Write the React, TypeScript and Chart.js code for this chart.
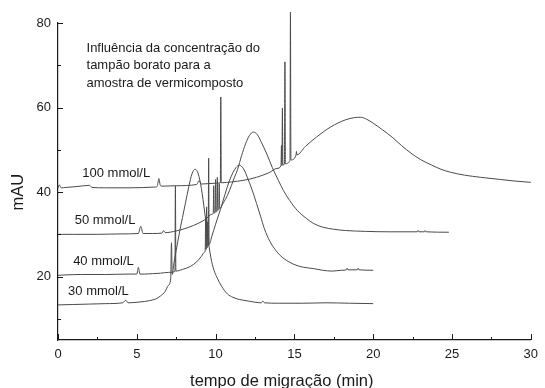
import { useEffect, useRef } from "react";
import { Chart, registerables } from "chart.js";

Chart.register(...registerables);

// ---- data (migration time in min, absorbance in mAU) ----
const t30 = [0, 1, 2, 3, 4.1, 4.3, 4.45, 5.2, 5.8, 6.2, 6.5, 6.8, 7.0, 7.15, 7.2, 7.25, 7.35, 7.5, 7.7, 7.9, 8.1, 8.3, 8.5, 8.7, 8.9, 9.1, 9.3, 9.5, 9.7, 9.9, 10.1, 10.4, 10.75, 11.1, 11.5, 12.1, 12.9, 13.0, 13.1, 14, 15.5, 17, 18.5, 20];
const v30 = [13.3, 13.4, 13.5, 13.6, 13.8, 14.4, 13.8, 14.0, 14.3, 14.7, 15.4, 16.5, 17.9, 19.5, 28.0, 20.5, 23.0, 26.2, 30.3, 34.0, 37.6, 41.3, 44.3, 45.4, 44.3, 40.8, 35.5, 29.5, 24.5, 21.5, 19.7, 17.6, 15.9, 15.1, 14.6, 14.2, 13.8, 14.2, 13.8, 13.7, 13.7, 13.8, 13.7, 13.6];

const t40 = [0, 0.5, 1.5, 3, 4.5, 5.0, 5.1, 5.2, 5.5, 6.0, 6.5, 7.0, 7.42, 7.45, 7.48, 7.9, 8.4, 8.8, 9.1, 9.3, 9.34, 9.37, 9.4, 9.43, 9.46, 9.5, 9.53, 9.56, 9.59, 9.75, 10.0, 10.3, 10.6, 10.85, 11.1, 11.3, 11.5, 11.7, 11.85, 12.0, 12.3, 12.6, 12.85, 13.1, 13.45, 13.8, 14.1, 14.6, 15.1, 15.6, 16.2, 16.8, 17.4, 18.0, 18.3, 18.35, 18.4, 19.0, 19.05, 19.1, 20];
const v40 = [20.3, 20.4, 20.5, 20.5, 20.6, 20.6, 22.2, 20.6, 20.6, 20.7, 20.8, 21.0, 21.2, 41.4, 21.3, 21.7, 22.4, 23.5, 24.8, 25.8, 26.1, 34.0, 26.4, 36.5, 26.8, 33.0, 27.2, 48.0, 27.6, 29.4, 32.4, 35.8, 39.5, 42.4, 44.6, 45.8, 46.35, 45.9, 45.0, 43.6, 40.7, 37.3, 34.3, 31.3, 28.3, 26.3, 25.0, 23.6, 22.7, 22.2, 21.9, 21.5, 21.3, 21.5, 21.6, 22.0, 21.6, 21.6, 22.0, 21.6, 21.5];

const t50 = [0, 1, 2.5, 4, 5.1, 5.25, 5.4, 6.0, 6.6, 6.7, 6.8, 7.5, 8.0, 8.6, 9.3, 9.8, 9.85, 9.88, 9.91, 9.97, 10.0, 10.03, 10.08, 10.11, 10.14, 10.2, 10.23, 10.26, 10.5, 10.75, 11.0, 11.2, 11.4, 11.65, 11.9, 12.15, 12.4, 12.65, 12.9, 13.25, 13.6, 13.98, 14.3, 14.7, 15.2, 15.75, 16.2, 16.8, 17.5, 18.25, 19.5, 21, 22.8, 22.85, 22.9, 23.25, 23.3, 23.35, 24.8];
const v50 = [30.0, 30.0, 30.0, 30.1, 30.2, 31.9, 30.2, 30.2, 30.3, 30.9, 30.4, 30.8, 31.3, 32.1, 33.4, 34.8, 34.9, 41.5, 35.0, 35.2, 43.0, 35.3, 35.5, 43.5, 35.7, 35.9, 42.0, 36.1, 37.5, 39.2, 41.5, 43.5, 45.4, 48.6, 51.4, 53.4, 54.2, 53.6, 51.8, 49.0, 45.8, 42.8, 40.4, 38.0, 35.6, 33.8, 32.6, 31.7, 31.2, 30.9, 30.7, 30.6, 30.6, 30.9, 30.6, 30.6, 30.9, 30.6, 30.5];

const t100 = [0, 0.08, 0.2, 0.5, 1.2, 2.0, 2.15, 3, 4.5, 6.2, 6.3, 6.4, 6.5, 6.6, 7.5, 8.8, 8.95, 9.1, 10.0, 10.3, 10.33, 10.36, 11, 11.8, 12.6, 13.4, 13.9, 14.15, 14.18, 14.21, 14.24, 14.27, 14.37, 14.4, 14.43, 14.72, 14.75, 14.78, 15.1, 15.13, 15.16, 15.7, 16.4, 17.3, 18.25, 18.8, 19.2, 19.6, 20.0, 20.6, 21.2, 21.8, 22.4, 23.0, 23.7, 24.3, 24.9, 25.8, 26.8, 28.0, 29.0, 30];
const v100 = [40.9, 41.7, 41.0, 41.1, 41.3, 41.6, 41.1, 41.0, 41.0, 41.2, 41.4, 43.2, 41.5, 41.4, 41.5, 41.8, 42.7, 41.9, 42.1, 42.2, 62.5, 42.2, 42.4, 42.8, 43.5, 44.6, 45.6, 46.2, 51.0, 46.3, 59.9, 46.4, 46.6, 70.8, 46.7, 47.5, 82.6, 47.6, 48.7, 49.6, 48.8, 50.8, 53.0, 55.4, 57.1, 57.6, 57.7, 57.2, 56.3, 54.7, 53.0, 51.0, 49.2, 47.7, 46.4, 45.4, 44.7, 44.0, 43.5, 43.0, 42.6, 42.3];

const seriesNames = ["30 mmol/L", "40 mmol/L", "50 mmol/L", "100 mmol/L"];
const seriesTimes = [t30, t40, t50, t100];
const seriesValues = [v30, v40, v50, v100];
const labelAtTime = [0.64, 0.96, 1.06, 1.54];
const labelAtValue = [16.6, 23.7, 33.2, 44.5];

const noteLines = ["Influência da concentração do", "tampão borato para a", "amostra de vermicomposto"];
const noteAtTime = 1.81;
const noteAtValue = 74.0;

const xMajorTicks = [0, 5, 10, 15, 20, 25, 30];
const xMinorTicks = [2.5, 7.5, 12.5, 17.5, 22.5, 27.5];
const yMajorTicks = [20, 40, 60, 80];
const yMinorTicks = [10, 30, 50, 70];

const xTitle = "tempo de migração (min)";
const yTitle = "mAU";
const xTitleAtTime = 14.2;
const yTitleAtValue = 40;

const FONT = "'Liberation Sans', Arial, Helvetica, sans-serif";
const INK = "#1a1a1a";
const LINE = "#4a4a4a";

const decorPlugin = {
  id: "decor",
  afterDraw(chart: any) {
    const { ctx, chartArea } = chart;
    const xs = chart.scales.x;
    const ys = chart.scales.y;
    ctx.save();
    ctx.strokeStyle = INK;
    ctx.lineWidth = 1;
    const vtick = (v: number, len: number) => {
      const p = Math.round(xs.getPixelForValue(v)) + 0.5;
      ctx.beginPath();
      ctx.moveTo(p, chartArea.bottom);
      ctx.lineTo(p, chartArea.bottom - len);
      ctx.stroke();
    };
    const htick = (v: number, len: number) => {
      const p = Math.round(ys.getPixelForValue(v)) + 0.5;
      ctx.beginPath();
      ctx.moveTo(chartArea.left, p);
      ctx.lineTo(chartArea.left + len, p);
      ctx.stroke();
    };
    xMajorTicks.forEach((v) => vtick(v, 6));
    xMinorTicks.forEach((v) => vtick(v, 3));
    yMajorTicks.forEach((v) => htick(v, 5));
    yMinorTicks.forEach((v) => htick(v, 3));

    ctx.fillStyle = INK;
    ctx.font = `13px ${FONT}`;
    ctx.textAlign = "left";
    ctx.textBaseline = "middle";
    seriesNames.forEach((name, i) => {
      ctx.fillText(name, xs.getPixelForValue(labelAtTime[i]), ys.getPixelForValue(labelAtValue[i]));
    });
    const nx = xs.getPixelForValue(noteAtTime);
    const ny = ys.getPixelForValue(noteAtValue);
    noteLines.forEach((line, i) => ctx.fillText(line, nx, ny + i * 17.5));

    ctx.font = `16.5px ${FONT}`;
    ctx.textAlign = "center";
    ctx.fillText(xTitle, xs.getPixelForValue(xTitleAtTime), chartArea.bottom + 41);
    ctx.translate(18.5, ys.getPixelForValue(yTitleAtValue));
    ctx.rotate(-Math.PI / 2);
    ctx.fillText(yTitle, 0, 0);
    ctx.restore();
  },
};

export default function App() {
  const ref = useRef<HTMLCanvasElement | null>(null);
  useEffect(() => {
    if (!ref.current) return;
    const datasets = seriesNames.map((name, i) => ({
      label: name,
      data: seriesTimes[i].map((t, j) => ({ x: t, y: seriesValues[i][j] })),
      borderColor: LINE,
      borderWidth: 1,
      pointRadius: 0,
      fill: false,
      cubicInterpolationMode: "monotone" as const,
      clip: false as any,
    }));
    const chart = new Chart(ref.current, {
      type: "line",
      data: { datasets },
      plugins: [decorPlugin],
      options: {
        animation: false,
        responsive: false,
        events: [],
        layout: { padding: { top: 23, right: 8, left: 0, bottom: 0 } },
        plugins: { legend: { display: false }, tooltip: { enabled: false }, title: { display: false } },
        scales: {
          x: {
            type: "linear",
            min: 0,
            max: 30,
            afterFit: (s: any) => { s.height = 48; },
            afterBuildTicks: (s: any) => { s.ticks = xMajorTicks.map((v) => ({ value: v })); },
            grid: { display: false, drawTicks: false },
            border: { display: true, color: INK, width: 1.2 },
            ticks: { color: INK, font: { family: FONT, size: 13 }, padding: 7, maxRotation: 0 },
          },
          y: {
            type: "linear",
            min: 5,
            max: 80,
            afterFit: (s: any) => { s.width = 58; },
            afterBuildTicks: (s: any) => { s.ticks = yMajorTicks.map((v) => ({ value: v })); },
            grid: { display: false, drawTicks: false },
            border: { display: true, color: INK, width: 1.2 },
            ticks: { color: INK, font: { family: FONT, size: 13 }, padding: 7 },
          },
        },
      },
    });
    return () => chart.destroy();
  }, []);
  return (
    <div style={{ position: "fixed", left: 0, top: 0, width: 545, height: 388, background: "#fff" }}>
      <canvas ref={ref} width={545} height={388} style={{ width: 545, height: 388, display: "block" }} />
    </div>
  );
}
